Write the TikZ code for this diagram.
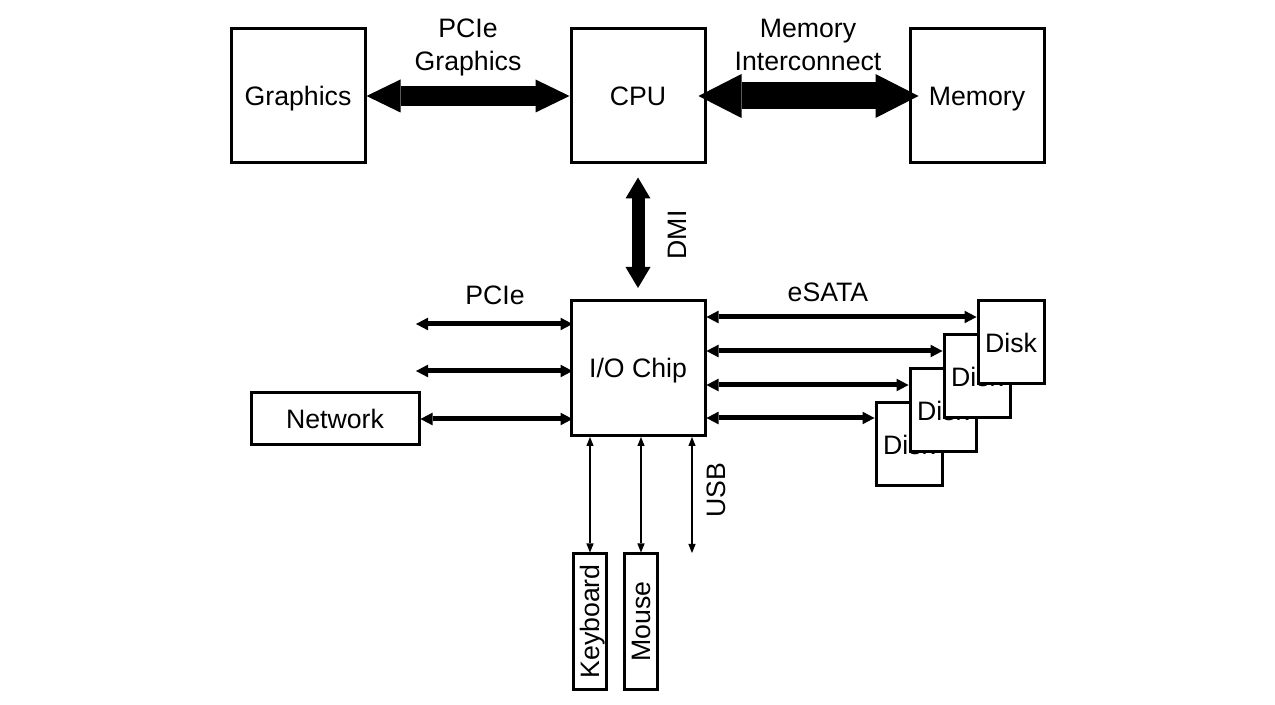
\documentclass[tikz,border=0pt]{standalone}
\usepackage{fontspec}
\setmainfont{Liberation Sans}
\usetikzlibrary{arrows.meta}
\begin{document}
\begin{tikzpicture}[x=0.75pt,y=-0.75pt,
  txt/.style={font=\fontsize{20}{24.75}\selectfont},
  box/.style={txt,draw,line width=2.25pt,fill=white,inner sep=0pt,text height=14.3pt,text depth=0pt},
  bigbox/.style={box,minimum width=100.5pt,minimum height=100.5pt},
  diskbox/.style={box,minimum width=49.5pt,minimum height=62.25pt},
  vbox/.style={box,rotate=90,minimum width=101.25pt,minimum height=25pt},
  lbl/.style={txt,inner sep=0pt,align=center},
  fatG/.style={line width=15pt,{Triangle[length=25.5pt,width=24.75pt,line width=0pt]}-{Triangle[length=25.5pt,width=24.75pt,line width=0pt]}},
  fatM/.style={line width=20.25pt,{Triangle[length=32.25pt,width=33pt,line width=0pt]}-{Triangle[length=32.25pt,width=33pt,line width=0pt]}},
  fatD/.style={line width=9.75pt,{Triangle[length=15.75pt,width=18.75pt,line width=0pt]}-{Triangle[length=15.75pt,width=18.75pt,line width=0pt]}},
  thinA/.style={line width=3.75pt,{Triangle[length=9pt,width=9.5pt,line width=0pt]}-{Triangle[length=9pt,width=9.5pt,line width=0pt]}},
  tinyA/.style={line width=1.9pt,{Triangle[length=6.75pt,width=5.5pt,line width=0pt]}-{Triangle[length=6.75pt,width=5.5pt,line width=0pt]}}
]
\fill[white] (0,0) rectangle (1275,705);
\useasboundingbox (0,0) rectangle (1275,705);

% top row
\node[bigbox] (G) at (298,96) {Graphics};
\node[bigbox] (C) at (638,96) {CPU};
\node[bigbox] (M) at (977,96) {Memory};
\node[lbl] (lPG) at (468,47) {PCIe\\Graphics};
\node[lbl] (lMI) at (808,45) {Memory\\Interconnect};

% I/O chip
\node[bigbox,minimum height=101.25pt] (IO) at (638,368) {I/O Chip};
\node[lbl,rotate=90] (lDMI) at (677,235) {DMI};
\node[lbl] (lPCIe) at (495,295) {PCIe};
\node[lbl] (lSATA) at (828,292) {eSATA};
\node[lbl,rotate=90] (lUSB) at (716,490) {USB};

% network
\node[box,minimum width=126pt,minimum height=39pt] (N) at (335,419) {Network};

% keyboard, mouse
\node[vbox] (KB) at (590,621.5) {Keyboard};
\node[vbox] (MS) at (641,621.5) {Mouse};

% disks (back to front)
\node[diskbox] (D1) at (909,444.5) {Disk};
\node[diskbox] (D2) at (943,410.5) {Disk};
\node[diskbox] (D3) at (977,376.5) {Disk};
\node[diskbox] (D4) at (1011,342.5) {Disk};

% coordinates
\coordinate (p1) at (416,324);
\coordinate (p2) at (416,371);
\coordinate (r1) at (0,317);
\coordinate (r2) at (0,351);
\coordinate (r3) at (0,385);
\coordinate (r4) at (0,418);
\coordinate (u) at (692,553);

% connectors
\draw[fatG] (G.east) -- (C.west);
\draw[fatM,shorten <=-6pt,shorten >=-7.5pt] (C.east) -- (M.west);
\draw[fatD,shorten <=9.75pt,shorten >=8.25pt] (C.south) -- (IO.north);

\draw[thinA,shorten >=-2.25pt] (p1) -- (IO.west |- p1);
\draw[thinA,shorten >=-2.25pt] (p2) -- (IO.west |- p2);
\draw[thinA,shorten >=-2.25pt] (N.east) -- (IO.west |- N.east);

\draw[thinA] (IO.east |- r1) -- (D4.west |- r1);
\draw[thinA] (IO.east |- r2) -- (D3.west |- r2);
\draw[thinA] (IO.east |- r3) -- (D2.west |- r3);
\draw[thinA] (IO.east |- r4) -- (D1.west |- r4);

\draw[tinyA] (IO.south -| KB) -- (KB.east);
\draw[tinyA] (IO.south -| MS) -- (MS.east);
\draw[tinyA] (IO.south -| u) -- (u);
\end{tikzpicture}
\end{document}
